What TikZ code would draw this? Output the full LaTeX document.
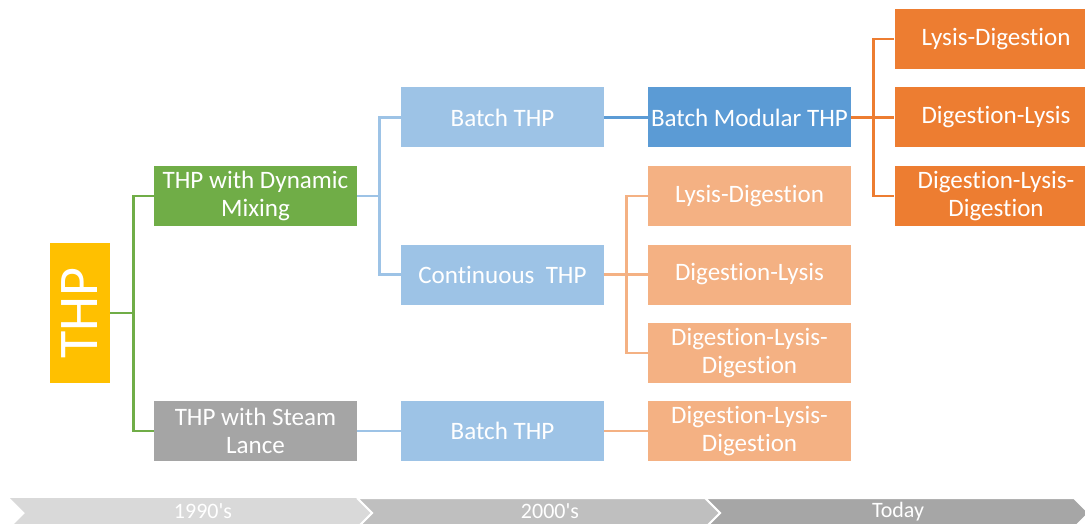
\documentclass[tikz,border=0pt]{standalone}
\usepackage{fontspec}
\setmainfont[Ligatures={NoCommon}]{Carlito}
\definecolor{cyellow}{HTML}{FFC000}
\definecolor{cgreen}{HTML}{70AD47}
\definecolor{cgray}{HTML}{A5A5A5}
\definecolor{clblue}{HTML}{9DC3E6}
\definecolor{cblue}{HTML}{5B9BD5}
\definecolor{clorange}{HTML}{F4B183}
\definecolor{corange}{HTML}{ED7D31}
\definecolor{tl1}{HTML}{D9D9D9}
\definecolor{tl2}{HTML}{BFBFBF}
\definecolor{tl3}{HTML}{A6A6A6}
\begin{document}
\begin{tikzpicture}[x=0.75pt,y=-0.75pt,
  box/.style={minimum width=152.25pt, minimum height=45pt, inner sep=0pt, align=center, text=white,
    font=\fontsize{18.8}{21}\selectfont},
  conn/.style={line width=2pt},
  chev/.style={draw=white, line width=1.5pt, line join=miter},
  tltext/.style={text=white, font=\fontsize{16.5}{18}\selectfont, inner sep=0pt}]
\useasboundingbox (0,0) rectangle (1085,524);

% timeline
\fill[white] (0,0) rectangle (1085,524);
\filldraw[chev, fill=tl3] (705,498) -- (1074,498) -- (1089,513) -- (1074,528) -- (705,528) -- (720,513) -- cycle;
\filldraw[chev, fill=tl2] (357,498) -- (705,498) -- (720,513) -- (705,528) -- (357,528) -- (372,513) -- cycle;
\filldraw[chev, fill=tl1, draw=none] (10,498) -- (357,498) -- (372,513) -- (357,528) -- (10,528) -- (25,513) -- cycle;
\draw[white, line width=1.5pt] (357,498) -- (372,513) -- (357,528);
\node[tltext] (t1) at (203,511.5) {1990\textquotesingle s};
\node[tltext] (t2) at (550,511.5) {2000\textquotesingle s};
\node[tltext] (t3) at (898,511.5) {Today};

% nodes
\node[fill=cyellow, minimum width=45pt, minimum height=105pt, inner sep=0pt, text=white,
  font=\fontsize{42}{44}\selectfont] (thp) at (80,313) {\rotatebox{90}{THP}};
\node[box, fill=cgreen] (dyn) at (255.5,196) {THP with Dynamic\\Mixing};
\node[box, fill=cgray] (steam) at (255.5,431) {THP with Steam\\Lance};
\node[box, fill=clblue] (bt) at (502.5,117.5) {Batch THP};
\node[box, fill=clblue] (ct) at (502.5,274.5) {Continuous\ \ THP};
\node[box, fill=clblue] (bb) at (502.5,431) {Batch THP};
\node[box, fill=cblue] (bm) at (749.5,117.5) {Batch Modular THP};
\node[box, fill=clorange] (l1) at (749.5,196) {Lysis-Digestion};
\node[box, fill=clorange] (l2) at (749.5,274.5) {Digestion-Lysis};
\node[box, fill=clorange] (l3) at (749.5,353) {Digestion-Lysis-\\Digestion};
\node[box, fill=clorange] (l4) at (749.5,431) {Digestion-Lysis-\\Digestion};
\node[box, fill=corange] (o1) at (996,39) {Lysis-Digestion};
\node[box, fill=corange] (o2) at (996,117.5) {Digestion-Lysis};
\node[box, fill=corange] (o3) at (996,196) {Digestion-Lysis-\\Digestion};

% connectors
\draw[conn, cgreen] (thp.east) -- ++(23,0) coordinate (j1);
\draw[conn, cgreen] (dyn.west) -| (j1) |- (steam.west);
\draw[conn, clblue] (dyn.east) -- ++(22,0) coordinate (j2);
\draw[conn, clblue] (bt.west) -| (j2) |- (ct.west);
\draw[conn, clblue] (steam.east) -- (bb.west);
\draw[conn, cblue] (bt.east) -- (bm.west);
\draw[conn, corange] (bm.east) -- ++(22,0) coordinate (j3);
\draw[conn, corange] (o1.west) -| (j3) |- (o3.west);
\draw[conn, corange] (j3) -- (o2.west);
\draw[conn, clorange] (ct.east) -- ++(22,0) coordinate (j4);
\draw[conn, clorange] (l1.west) -| (j4) |- (l3.west);
\draw[conn, clorange] (j4) -- (l2.west);
\draw[conn, clorange] (bb.east) -- (l4.west);
\end{tikzpicture}
\end{document}
